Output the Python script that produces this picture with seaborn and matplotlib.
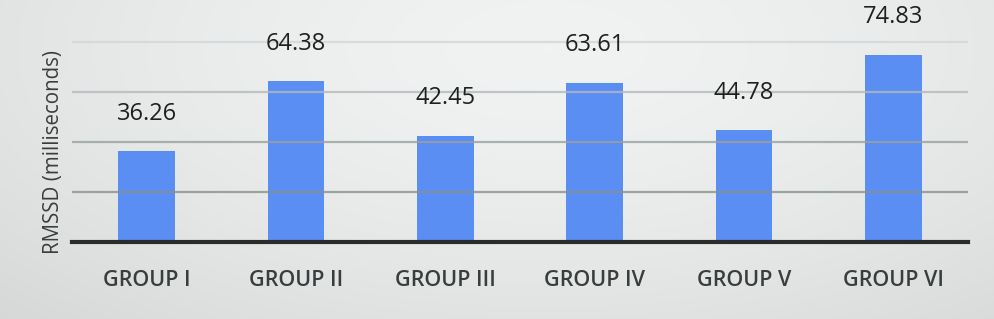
import numpy as np
import pandas as pd
import matplotlib
matplotlib.use("Agg")
import matplotlib.pyplot as plt
import seaborn as sns

groups = ["GROUP I", "GROUP II", "GROUP III", "GROUP IV", "GROUP V", "GROUP VI"]
rmssd = [36.26, 64.38, 42.45, 63.61, 44.78, 74.83]
ylabel = "RMSSD (milliseconds)"

df = pd.DataFrame({"group": groups, "rmssd": rmssd})

sns.set_theme(style="white")
plt.rcParams["font.family"] = ["Open Sans", "DejaVu Sans"]

W, H = 994, 319
fig = plt.figure(figsize=(W / 100, H / 100), dpi=100)

# background gradient
bg = fig.add_axes([0, 0, 1, 1], zorder=-10)
yy, xx = np.mgrid[0:1:200j, 0:1:600j]
r = np.sqrt(((xx - 0.55) / 0.75) ** 2 + ((yy - 0.15) / 1.1) ** 2)
val = np.clip(1 - 0.24 * r ** 1.6, 0, 1)
base = np.array([0.945, 0.953, 0.953])
img = np.dstack([val * base[i] + (1 - val) * 0.55 for i in range(3)])
bg.imshow(img, aspect="auto", extent=[0, 1, 0, 1], origin="upper")
bg.axis("off")

ax = fig.add_axes([72 / W, (H - 242) / H, 896 / W, 250 / H])
ax.set_facecolor("none")
sns.barplot(data=df, x="group", y="rmssd", color="#5a8ef2", saturation=1,
            width=0.38, linewidth=0, ax=ax, zorder=2)
ax.set_ylim(0, 100)
ax.set_xlim(-0.5, 5.5)
ax.set_yticks([0, 20, 40, 60, 80, 100])
ax.set_yticklabels([])
ax.tick_params(axis="y", length=0)
ax.tick_params(axis="x", length=0, pad=20)
ax.grid(axis="y", linewidth=1.6, zorder=3)
gcols = ["#8a8f8f", "#8a8f8f", "#9aa0a0", "#b4b9b9", "#d2d6d6", "#e0e3e3"]
for gl, c in zip(ax.get_ygridlines(), gcols):
    gl.set_color(c)
    gl.set_alpha(0.8)
ax.set_axisbelow(False)
for s in ["top", "right", "left"]:
    ax.spines[s].set_visible(False)
ax.spines["bottom"].set_color("#2a2c2c")
ax.spines["bottom"].set_linewidth(3)
ax.spines["bottom"].set_zorder(4)
for lbl in ax.get_xticklabels():
    lbl.set_fontsize(15.5)
    lbl.set_fontweight("semibold")
    lbl.set_color("#3a3d3d")
ax.set_xlabel("")
ax.set_ylabel("")

for i, v in enumerate(rmssd):
    ax.text(i, v + 15, f"{v:.2f}", ha="center", va="center",
            fontsize=17, color="#1e1f1f")

fig.text(54 / W, 1 - 152 / H, ylabel, rotation=90, ha="center", va="center",
         fontsize=14.8, color="#3a3d3d")

fig.savefig("out.png", dpi=100)
